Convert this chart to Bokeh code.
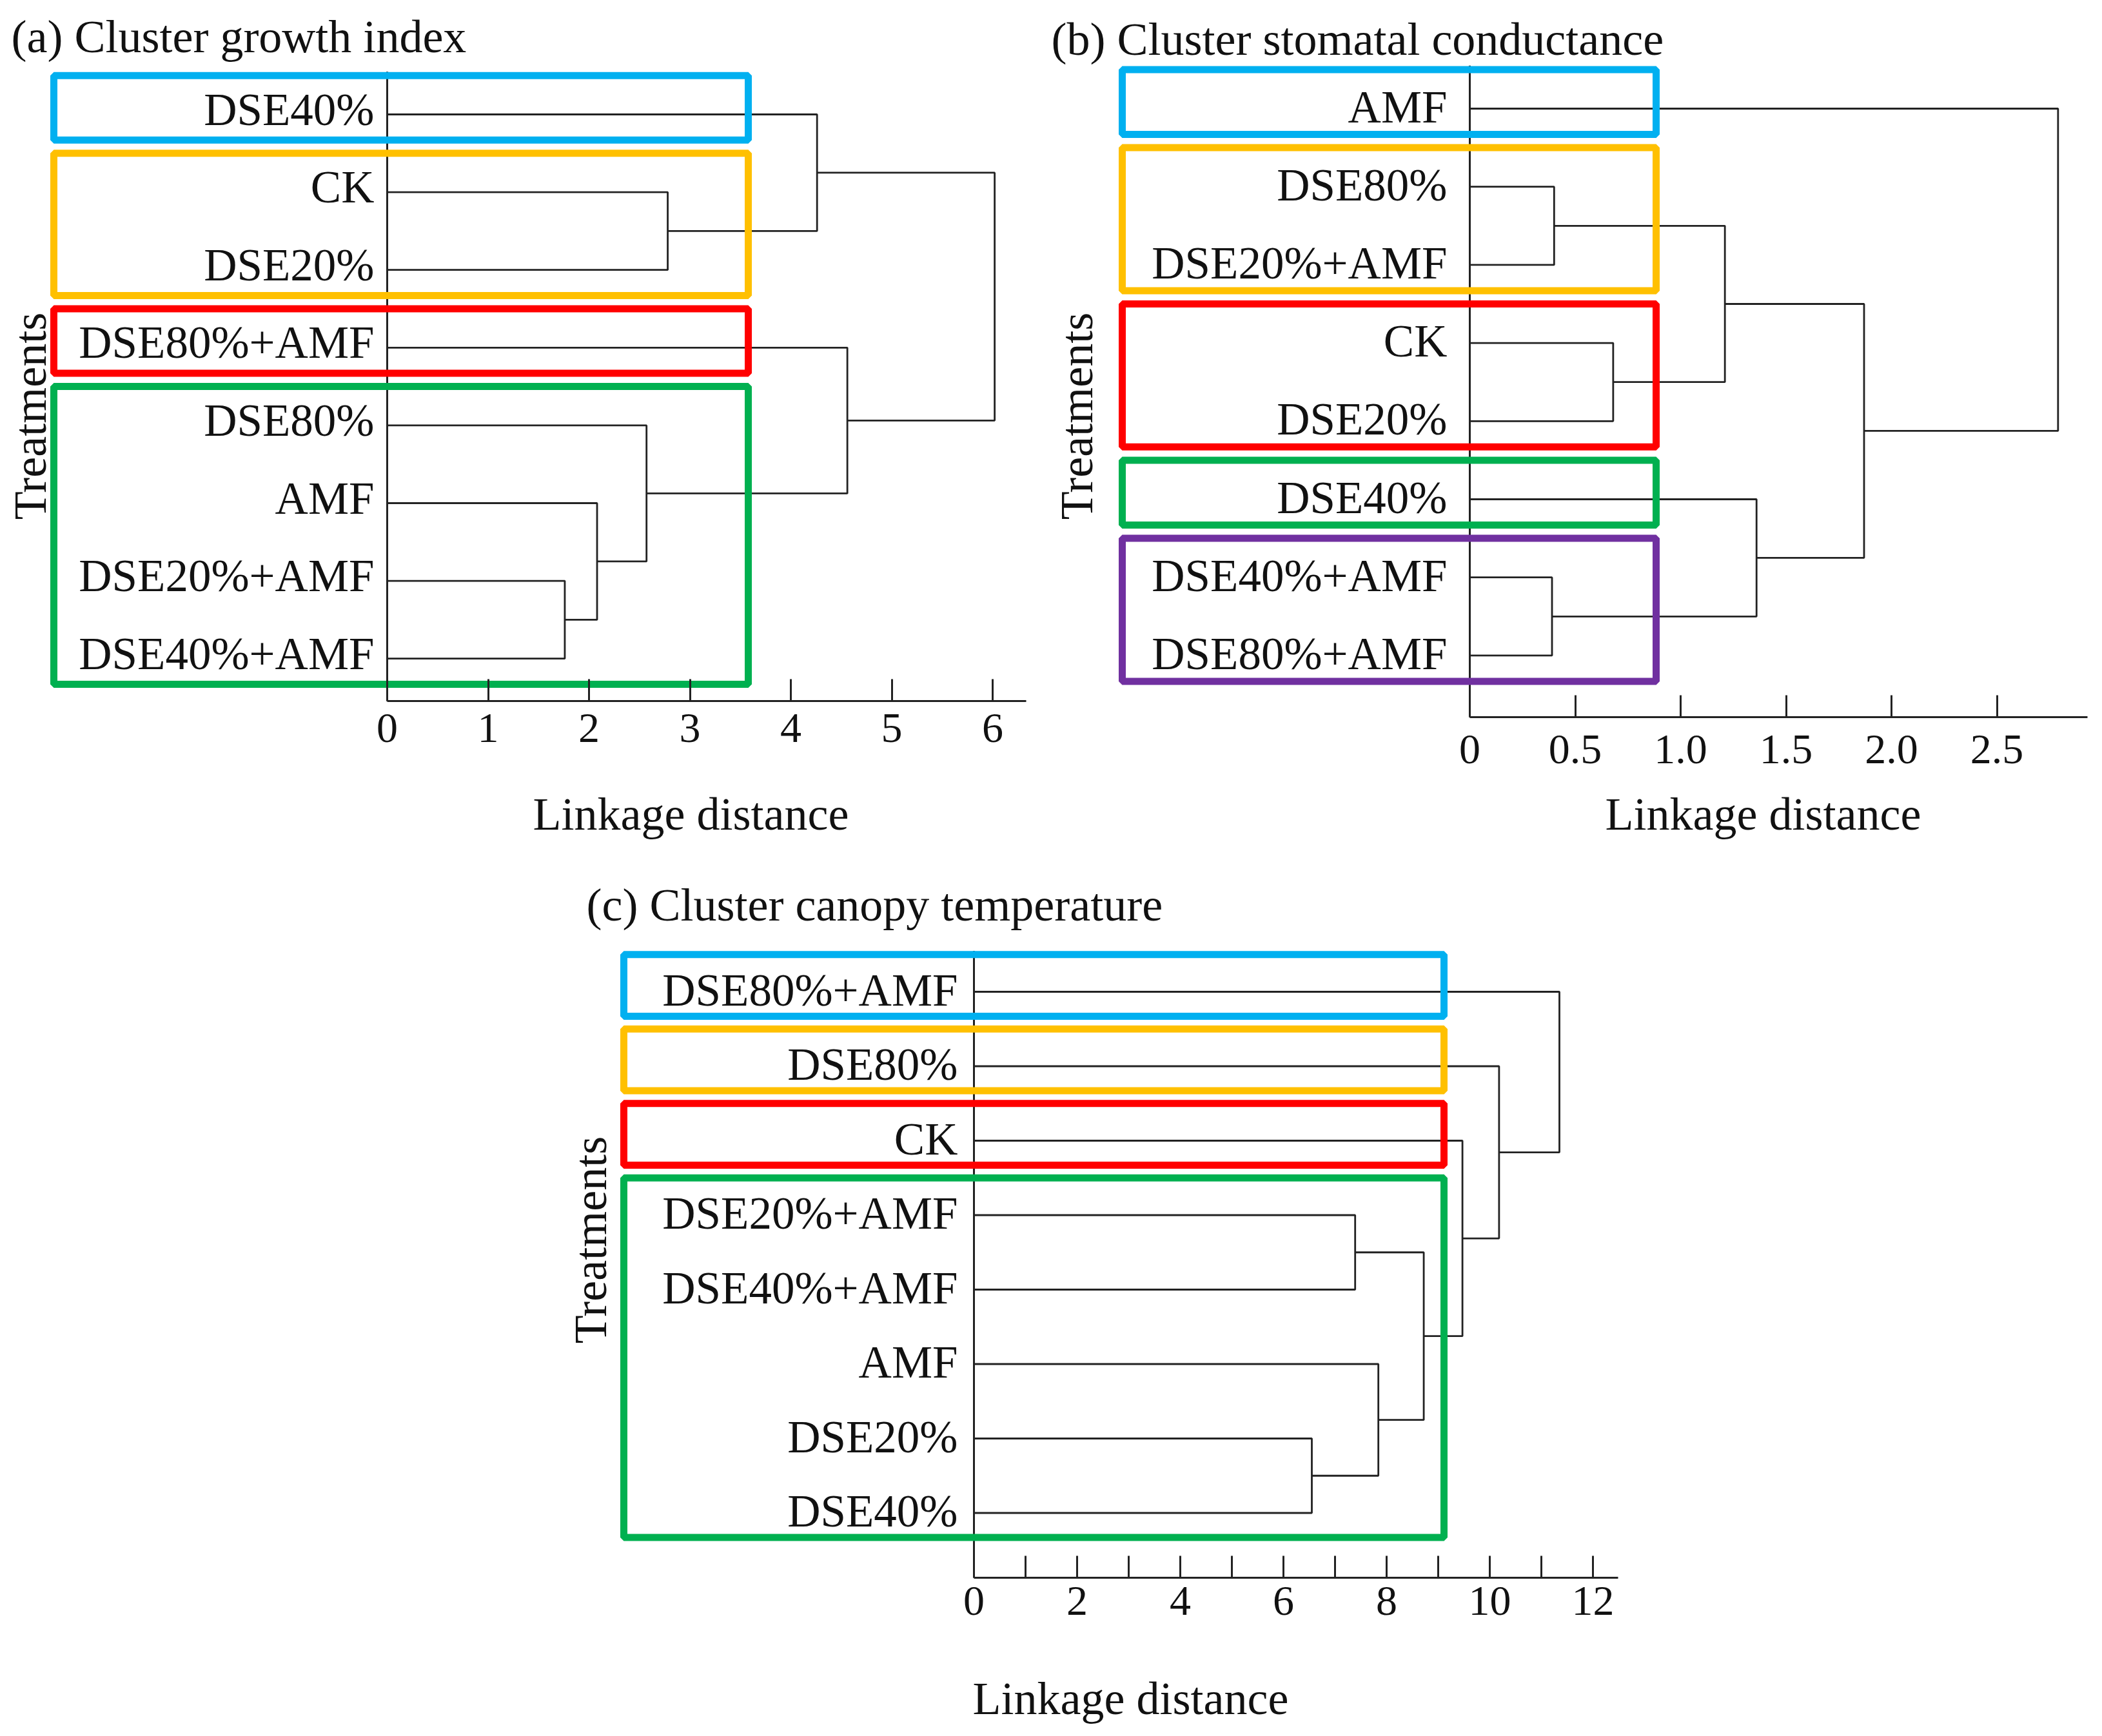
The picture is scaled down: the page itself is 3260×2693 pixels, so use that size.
import math
from bokeh.plotting import figure
from bokeh.models import Range1d, LinearAxis, FixedTicker, NumeralTickFormatter, Grid
from bokeh.layouts import column, row
from bokeh.embed import file_html
from bokeh.resources import INLINE
from bokeh.core.properties import value

# ---------------- data ----------------
title_a = "(a) Cluster growth index"
leaves_a = ["DSE40%", "CK", "DSE20%", "DSE80%+AMF", "DSE80%", "AMF", "DSE20%+AMF", "DSE40%+AMF"]
# (child1, child2, linkage distance); ids >= n refer to earlier merges
merges_a = [(6, 7, 1.76), (5, 8, 2.08), (4, 9, 2.57), (1, 2, 2.78), (0, 11, 4.26), (3, 10, 4.56), (12, 13, 6.02)]
groups_a = [(0, 0, "blue"), (1, 2, "orange"), (3, 3, "red"), (4, 7, "green")]
ticks_a = [0, 1, 2, 3, 4, 5, 6]
tick_labels_a = ["0", "1", "2", "3", "4", "5", "6"]

title_b = "(b) Cluster stomatal conductance"
leaves_b = ["AMF", "DSE80%", "DSE20%+AMF", "CK", "DSE20%", "DSE40%", "DSE40%+AMF", "DSE80%+AMF"]
merges_b = [(6, 7, 0.39), (1, 2, 0.40), (3, 4, 0.68), (9, 10, 1.21), (5, 8, 1.36), (11, 12, 1.87), (0, 13, 2.79)]
groups_b = [(0, 0, "blue"), (1, 2, "orange"), (3, 4, "red"), (5, 5, "green"), (6, 7, "purple")]
ticks_b = [0, 0.5, 1.0, 1.5, 2.0, 2.5]
tick_labels_b = ["0", "0.5", "1.0", "1.5", "2.0", "2.5"]

title_c = "(c) Cluster canopy temperature"
leaves_c = ["DSE80%+AMF", "DSE80%", "CK", "DSE20%+AMF", "DSE40%+AMF", "AMF", "DSE20%", "DSE40%"]
merges_c = [(6, 7, 6.55), (3, 4, 7.39), (5, 8, 7.84), (9, 10, 8.72), (2, 11, 9.47), (1, 12, 10.18), (0, 13, 11.35)]
groups_c = [(0, 0, "blue"), (1, 1, "orange"), (2, 2, "red"), (3, 7, "green")]
ticks_c = [0, 2, 4, 6, 8, 10, 12]
minor_ticks_c = [1, 3, 5, 7, 9, 11]
tick_labels_c = ["0", "2", "4", "6", "8", "10", "12"]

x_title = "Linkage distance"
y_title = "Treatments"

# ---------------- style ----------------
FONT = "Liberation Serif"
TXT = "#111111"
LINE = "#222222"
BOX_COLORS = {"blue": "#00B0F0", "orange": "#FFC000", "red": "#FF0000",
              "green": "#00B050", "purple": "#7030A0"}


def dendro_lines(n, merges):
    pos = {i: (0.0, float(i)) for i in range(n)}
    xs, ys = [], []
    for k, (a, b, d) in enumerate(merges):
        xa, ya = pos[a]
        xb, yb = pos[b]
        xs.append([xa, d, d, xb])
        ys.append([ya, ya, yb, yb])
        pos[n + k] = (d, (ya + yb) / 2.0)
    return xs, ys


def panel(cfg, title, leaves, merges, groups, ticks, tick_labels, minor=None, fmt=None):
    ox, oy, W, H = cfg["ox"], cfg["oy"], cfg["W"], cfg["H"]
    X0, pxu, L0, sp = cfg["X0"], cfg["pxu"], cfg["L0"], cfg["sp"]

    def dx(px):
        return (px - X0) / pxu

    def dy(py):
        return (py - L0) / sp

    p = figure(width=W, height=H,
               x_range=Range1d(dx(ox), dx(ox + W)),
               y_range=Range1d(dy(oy + H), dy(oy)),
               x_axis_location=None, y_axis_location=None,
               output_backend="svg", toolbar_location=None,
               min_border=0, outline_line_color=None)
    p.background_fill_color = "white"
    for g in p.select(type=Grid):
        g.visible = False

    n = len(leaves)
    ax_y = dy(cfg["axis_py"])

    # vertical (treatment) axis line at distance 0
    p.segment(x0=[0], y0=[-0.55], x1=[0], y1=[ax_y], line_color=LINE, line_width=3)

    # dendrogram
    xs, ys = dendro_lines(n, merges)
    p.multi_line(xs=xs, ys=ys, line_color=LINE, line_width=2.8)

    # leaf labels
    p.text(x=[0] * n, y=list(range(n)), text=leaves,
           x_offset=-cfg["gap"], y_offset=cfg["ldy"],
           text_align="right", text_baseline="middle",
           text_font=value(FONT), text_font_size="71px", text_color=TXT)

    # coloured group boxes
    bl, br = dx(cfg["box_l"]), dx(cfg["box_r"])
    p.quad(left=[bl] * len(groups), right=[br] * len(groups),
           top=[g[0] - 0.5 for g in groups], bottom=[g[1] + 0.33 for g in groups],
           fill_color=None, line_color=[BOX_COLORS[g[2]] for g in groups], line_width=11)

    # x axis
    ticker = FixedTicker(ticks=ticks, minor_ticks=minor or [])
    ax = LinearAxis(fixed_location=ax_y, bounds=(0, cfg["axis_end"]), ticker=ticker,
                    major_tick_in=34, major_tick_out=0,
                    minor_tick_in=34 if minor else 0, minor_tick_out=0,
                    axis_line_color=LINE, axis_line_width=3,
                    major_tick_line_color=LINE, major_tick_line_width=3,
                    minor_tick_line_color=LINE, minor_tick_line_width=3,
                    major_label_standoff=cfg["standoff"],
                    major_label_text_font=FONT, major_label_text_font_size="66px",
                    major_label_text_color=TXT,
                    major_label_overrides={t: l for t, l in zip(ticks, tick_labels)})
    if fmt is not None:
        ax.formatter = fmt
    p.add_layout(ax, "below")

    # titles
    tx, ty = cfg["title"]
    p.text(x=[dx(tx)], y=[dy(ty)], text=[title], text_align="left", text_baseline="middle",
           text_font=value(FONT), text_font_size="72px", text_color=TXT)
    lx, ly = cfg["xlab"]
    p.text(x=[dx(lx)], y=[dy(ly)], text=[x_title], text_align="center", text_baseline="middle",
           text_font=value(FONT), text_font_size="72px", text_color=TXT)
    yx, yy = cfg["ylab"]
    p.text(x=[dx(yx)], y=[dy(yy)], text=[y_title], text_align="center", text_baseline="middle",
           angle=math.pi / 2, text_font=value(FONT), text_font_size="72px", text_color=TXT)
    return p


cfg_a = dict(ox=0, oy=0, W=1612, H=1330, X0=600, pxu=156.5, L0=177, sp=120.6,
             axis_py=1087, axis_end=6.33, box_l=83, box_r=1160, gap=20, ldy=-8,
             standoff=20, title=(17, 56), xlab=(1071, 1262), ylab=(46, 645))
cfg_b = dict(ox=1612, oy=0, W=1640, H=1330, X0=2279, pxu=327, L0=168, sp=121.2,
             axis_py=1112, axis_end=2.93, box_l=1740, box_r=2568, gap=35, ldy=-3,
             standoff=28, title=(1630, 60), xlab=(2734, 1262), ylab=(1669, 645))
cfg_c = dict(ox=0, oy=1330, W=3252, H=1355, X0=1510, pxu=80, L0=1538, sp=115.5,
             axis_py=2447, axis_end=12.49, box_l=967, box_r=2239, gap=25, ldy=-3,
             standoff=14, title=(909, 1403), xlab=(1753, 2634), ylab=(915, 1923))

pa = panel(cfg_a, title_a, leaves_a, merges_a, groups_a, ticks_a, tick_labels_a)
pb = panel(cfg_b, title_b, leaves_b, merges_b, groups_b, ticks_b, tick_labels_b,
           fmt=NumeralTickFormatter(format="0.0"))
pc = panel(cfg_c, title_c, leaves_c, merges_c, groups_c, ticks_c, tick_labels_c, minor=minor_ticks_c)

layout = column(row(pa, pb), pc)
open("out.html", "w").write(file_html(layout, INLINE))
